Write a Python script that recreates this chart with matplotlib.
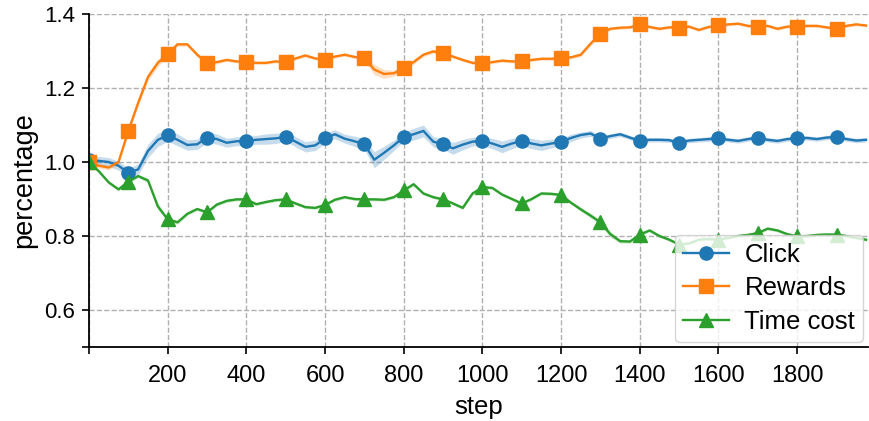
import numpy as np
import matplotlib
matplotlib.use("Agg")
import matplotlib.pyplot as plt

plt.rcParams['font.family'] = ['Liberation Sans', 'DejaVu Sans']

steps = list(range(0, 2000, 25))

click = [1.005, 1.003, 1.000, 0.990, 0.971, 0.980, 1.030, 1.060, 1.072, 1.060,
         1.046, 1.048, 1.066, 1.062, 1.052, 1.056, 1.057, 1.060, 1.062, 1.064,
         1.068, 1.055, 1.041, 1.045, 1.064, 1.075, 1.063, 1.056, 1.048, 1.006,
         1.025, 1.045, 1.068, 1.075, 1.084, 1.055, 1.048, 1.037, 1.047, 1.055,
         1.057, 1.050, 1.041, 1.050, 1.057, 1.050, 1.045, 1.050, 1.054, 1.065,
         1.073, 1.077, 1.063, 1.070, 1.075, 1.066, 1.057, 1.060, 1.060, 1.059,
         1.052, 1.058, 1.060, 1.062, 1.064, 1.060, 1.057, 1.062, 1.066, 1.060,
         1.057, 1.062, 1.064, 1.065, 1.062, 1.066, 1.068, 1.062, 1.058, 1.060]

rewards = [1.000, 0.990, 0.985, 1.000, 1.084, 1.160, 1.230, 1.268, 1.292, 1.318,
           1.318, 1.290, 1.268, 1.270, 1.276, 1.272, 1.270, 1.268, 1.268, 1.272,
           1.269, 1.280, 1.288, 1.280, 1.277, 1.285, 1.290, 1.284, 1.281, 1.250,
           1.238, 1.240, 1.254, 1.270, 1.290, 1.299, 1.294, 1.285, 1.276, 1.268,
           1.268, 1.270, 1.274, 1.272, 1.272, 1.276, 1.279, 1.279, 1.281, 1.283,
           1.290, 1.320, 1.347, 1.360, 1.363, 1.364, 1.372, 1.365, 1.360, 1.364,
           1.363, 1.366, 1.357, 1.365, 1.369, 1.372, 1.374, 1.368, 1.366, 1.368,
           1.360, 1.366, 1.366, 1.368, 1.368, 1.364, 1.360, 1.368, 1.372, 1.369]

time_cost = [1.000, 0.975, 0.945, 0.926, 0.947, 0.962, 0.950, 0.880, 0.845, 0.837,
             0.860, 0.873, 0.864, 0.885, 0.895, 0.899, 0.899, 0.886, 0.892, 0.897,
             0.899, 0.888, 0.878, 0.876, 0.884, 0.898, 0.905, 0.900, 0.899, 0.899,
             0.898, 0.905, 0.923, 0.940, 0.915, 0.905, 0.899, 0.888, 0.876, 0.915,
             0.932, 0.930, 0.912, 0.900, 0.888, 0.900, 0.915, 0.914, 0.911, 0.890,
             0.872, 0.855, 0.837, 0.805, 0.786, 0.785, 0.804, 0.815, 0.800, 0.790,
             0.777, 0.780, 0.790, 0.792, 0.790, 0.795, 0.800, 0.803, 0.808, 0.820,
             0.815, 0.805, 0.799, 0.800, 0.803, 0.804, 0.804, 0.800, 0.795, 0.790]

click_band = [0.012, 0.012, 0.012, 0.012, 0.012, 0.015, 0.018, 0.018, 0.016, 0.016,
              0.014, 0.014, 0.014, 0.014, 0.012, 0.012, 0.012, 0.012, 0.014, 0.014,
              0.012, 0.014, 0.014, 0.014, 0.014, 0.012, 0.012, 0.014, 0.014, 0.022,
              0.018, 0.014, 0.012, 0.016, 0.016, 0.014, 0.014, 0.016, 0.014, 0.012,
              0.012, 0.014, 0.016, 0.014, 0.012, 0.014, 0.014, 0.012, 0.010, 0.010,
              0.008, 0.008, 0.008, 0.006, 0.006, 0.006, 0.006, 0.006, 0.006, 0.006,
              0.006, 0.006, 0.006, 0.006, 0.006, 0.006, 0.006, 0.006, 0.006, 0.006,
              0.006, 0.006, 0.006, 0.006, 0.006, 0.006, 0.006, 0.006, 0.006, 0.006]

rewards_band = [0.006, 0.006, 0.006, 0.006, 0.006, 0.008, 0.010, 0.010, 0.006, 0.005,
                0.005, 0.005, 0.005, 0.005, 0.004, 0.004, 0.004, 0.004, 0.004, 0.004,
                0.004, 0.004, 0.004, 0.004, 0.004, 0.004, 0.004, 0.004, 0.006, 0.014,
                0.012, 0.008, 0.006, 0.006, 0.005, 0.005, 0.005, 0.004, 0.004, 0.004,
                0.004, 0.004, 0.004, 0.004, 0.004, 0.004, 0.004, 0.004, 0.004, 0.004,
                0.005, 0.006, 0.005, 0.004, 0.004, 0.004, 0.004, 0.004, 0.004, 0.004,
                0.004, 0.004, 0.004, 0.004, 0.004, 0.004, 0.004, 0.004, 0.004, 0.004,
                0.004, 0.004, 0.004, 0.004, 0.004, 0.004, 0.004, 0.004, 0.004, 0.004]

time_band = [0.004, 0.004, 0.004, 0.004, 0.004, 0.004, 0.006, 0.008, 0.006, 0.005,
             0.004, 0.004, 0.004, 0.004, 0.004, 0.004, 0.004, 0.004, 0.004, 0.004,
             0.004, 0.004, 0.004, 0.004, 0.004, 0.004, 0.004, 0.004, 0.004, 0.004,
             0.004, 0.004, 0.004, 0.004, 0.004, 0.004, 0.004, 0.004, 0.004, 0.004,
             0.004, 0.004, 0.004, 0.004, 0.004, 0.004, 0.004, 0.004, 0.004, 0.004,
             0.005, 0.006, 0.006, 0.008, 0.005, 0.004, 0.004, 0.004, 0.004, 0.004,
             0.004, 0.004, 0.004, 0.004, 0.004, 0.004, 0.004, 0.004, 0.004, 0.004,
             0.004, 0.004, 0.004, 0.004, 0.004, 0.004, 0.004, 0.004, 0.004, 0.004]

xtick_values = [0, 200, 400, 600, 800, 1000, 1200, 1400, 1600, 1800]
xtick_labels = ['', '200', '400', '600', '800', '1000', '1200', '1400', '1600', '1800']
ytick_values = [0.5, 0.6, 0.8, 1.0, 1.2, 1.4]
ytick_labels = ['', '0.6', '0.8', '1.0', '1.2', '1.4']

series = [
    ('Click', click, click_band, '#1f77b4', 'o'),
    ('Rewards', rewards, rewards_band, '#ff7f0e', 's'),
    ('Time cost', time_cost, time_band, '#2ca02c', '^'),
]

fig = plt.figure(figsize=(8.7, 4.21), dpi=100)
ax = fig.add_axes([0.1023, 0.1758, 0.8954, 0.7909])

x = np.array(steps)
for name, vals, band, color, marker in series:
    v = np.array(vals)
    b = np.array(band)
    ax.fill_between(x, v - b, v + b, color=color, alpha=0.25, linewidth=0)
    ax.plot(x, v, color=color, marker=marker, markersize=9.5, linewidth=1.7,
            markevery=4, label=name)

ax.set_xlim(0, 1980)
ax.set_ylim(0.5, 1.4)
ax.set_xticks(xtick_values)
ax.set_xticklabels(xtick_labels, fontsize=17)
ax.set_yticks(ytick_values)
ax.set_yticklabels(ytick_labels, fontsize=16)
ax.set_xlabel('step', fontsize=18.5, labelpad=6)
ax.set_ylabel('percentage', fontsize=19.5, labelpad=5)
ax.grid(True, linestyle='--', color='#b0b0b0', linewidth=1.0)
ax.set_axisbelow(True)
for s in ['top', 'right']:
    ax.spines[s].set_visible(False)
for s in ['left', 'bottom']:
    ax.spines[s].set_linewidth(1.3)
ax.tick_params(width=1.2, length=5)
ax.tick_params(axis='x', pad=8)
ax.tick_params(axis='y', pad=5)

ax.legend(loc='lower right', fontsize=18.5, framealpha=0.8, borderaxespad=0.2,
          borderpad=0.3, handletextpad=0.6, handlelength=1.8, labelspacing=0.38)

fig.savefig('out.png', dpi=100)
